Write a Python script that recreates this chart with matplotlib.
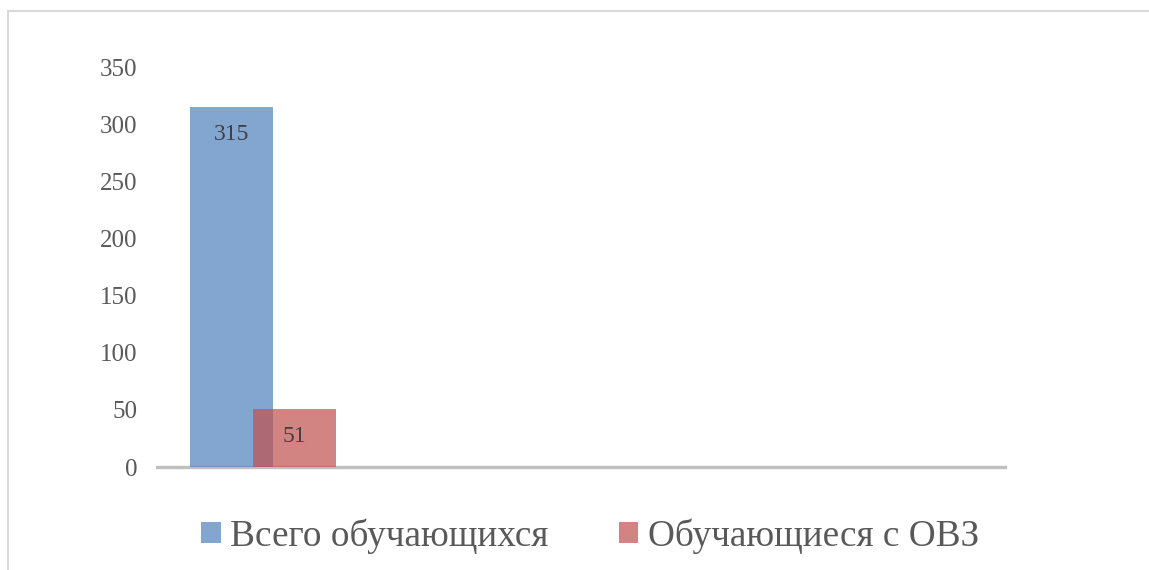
import numpy as np
import matplotlib
matplotlib.use("Agg")
import matplotlib.pyplot as plt
from matplotlib.lines import Line2D

categories = ["", "", "", ""]
total_students = [315, np.nan, np.nan, np.nan]
ovz_students = [51, np.nan, np.nan, np.nan]
series_names = ["Всего обучающихся", "Обучающиеся с ОВЗ"]
yticks = [0, 50, 100, 150, 200, 250, 300, 350]

plt.rcParams['font.family'] = ['Liberation Serif', 'DejaVu Serif']

W, H = 1149, 570
fig = plt.figure(figsize=(W / 100, H / 100), dpi=100)

# outer frame (only top and left edges visible)
fig.add_artist(Line2D([8 / W, 8 / W], [-0.05, (H - 11) / H], transform=fig.transFigure,
                      color='#D9D9D9', linewidth=1.5))
fig.add_artist(Line2D([8 / W, 1.05], [(H - 11) / H, (H - 11) / H], transform=fig.transFigure,
                      color='#D9D9D9', linewidth=1.5))

ax = fig.add_axes([157 / W, (H - 467) / H, (1005 - 157) / W, 400 / H])
x = np.arange(len(categories))
w = 0.39
off = 0.148
b1 = ax.bar(x - off, total_students, w, color='#4F81BD', alpha=0.7, label=series_names[0], zorder=3)
b2 = ax.bar(x + off, ovz_students, w, color='#C0504D', alpha=0.7, label=series_names[1], zorder=3)

for bars, vals in ((b1, total_students), (b2, ovz_students)):
    for rect, v in zip(bars, vals):
        if np.isfinite(v):
            ax.annotate(f"{int(v)}", (rect.get_x() + rect.get_width() / 2, v),
                        xytext=(0, -28), textcoords='offset pixels', ha='center', va='center',
                        fontsize=17, color='#404040', zorder=5)

ax.set_xlim(-0.5, len(categories) - 0.5)
ax.set_ylim(0, 350)
ax.set_yticks(yticks)
ax.set_yticklabels([str(t) for t in yticks], fontsize=18, color='#595959')
ax.set_xticks([])
ax.tick_params(axis='y', length=0, pad=14)
for s in ['top', 'right', 'left']:
    ax.spines[s].set_visible(False)
ax.spines['bottom'].set_color('#BFBFBF')
ax.spines['bottom'].set_linewidth(2.4)
ax.spines['bottom'].set_zorder(2)

leg = fig.legend(handles=[b1, b2], labels=series_names, loc='center', bbox_to_anchor=(590 / W, (H - 536) / H),
                 ncol=2, frameon=False, fontsize=26.8, handlelength=0.52, handleheight=0.52,
                 handletextpad=0.25, columnspacing=1.9, borderaxespad=0)
for t in leg.get_texts():
    t.set_color('#595959')

fig.savefig('out.png', dpi=100, facecolor='white')
